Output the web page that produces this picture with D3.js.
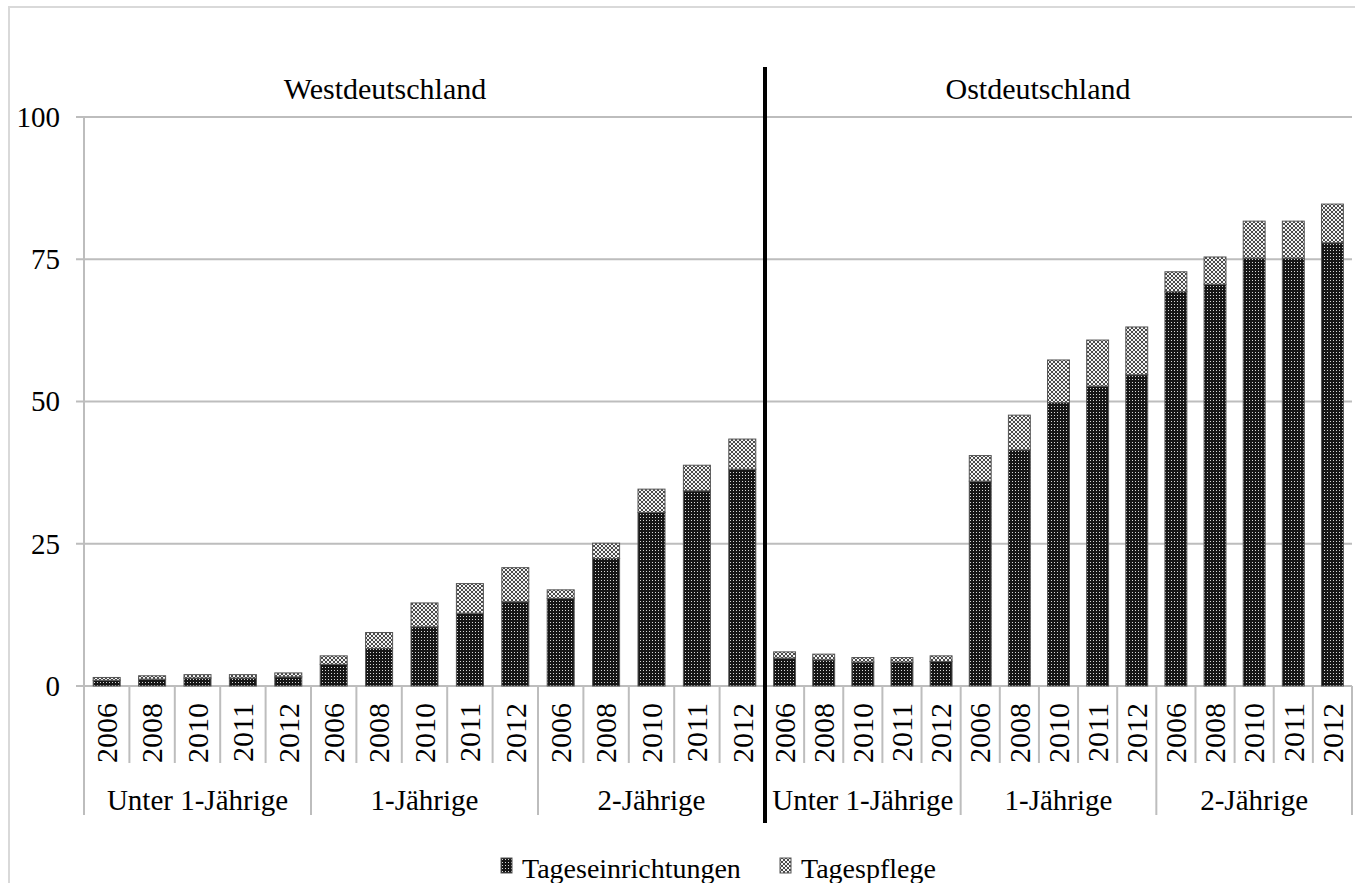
<!DOCTYPE html>
<html>
<head>
<meta charset="utf-8">
<script src="https://cdn.jsdelivr.net/npm/d3@7"></script>
<style>
  body { margin: 0; background: #fff; }
  svg text { font-family: "Liberation Serif", "Times New Roman", serif; fill: #000; }
</style>
</head>
<body>
<div id="chart"></div>
<script>
// categories
const years = ["2006", "2008", "2010", "2011", "2012"];
const groups = ["Unter 1-Jährige", "1-Jährige", "2-Jährige"];
const regions = ["Westdeutschland", "Ostdeutschland"];
const seriesNames = ["Tageseinrichtungen", "Tagespflege"];
const yTicks = [0, 25, 50, 75, 100];

// values (share in %)
const westEinrichtungen = [1.0, 1.2, 1.4, 1.4, 1.6, 3.8, 6.6, 10.4, 12.8, 14.8, 15.4, 22.4, 30.5, 34.3, 38.1];
const westPflege        = [0.5, 0.6, 0.6, 0.6, 0.7, 1.5, 2.8, 4.2, 5.2, 6.0, 1.5, 2.7, 4.1, 4.5, 5.3];
const eastEinrichtungen = [4.9, 4.6, 4.2, 4.2, 4.3, 36.0, 41.5, 49.8, 52.7, 54.7, 69.3, 70.6, 75.2, 75.2, 77.9];
const eastPflege        = [1.1, 1.0, 0.8, 0.8, 1.0, 4.5, 6.1, 7.5, 8.1, 8.4, 3.5, 4.8, 6.5, 6.5, 6.8];

const width = 1355, height = 883;
const plotTop = 117, plotBase = 686;

const svg = d3.select("#chart").append("svg")
    .attr("width", width)
    .attr("height", height);

// fill patterns
const defs = svg.append("defs");
let pe = defs.append("pattern").attr("id", "pat-einr")
    .attr("patternUnits", "userSpaceOnUse").attr("width", 3).attr("height", 3);
pe.append("rect").attr("width", 3).attr("height", 3).attr("fill", "#161616");
pe.append("rect").attr("x", 1).attr("y", 1).attr("width", 1).attr("height", 1).attr("fill", "#d8d8d8");

let pp = defs.append("pattern").attr("id", "pat-pflege")
    .attr("patternUnits", "userSpaceOnUse").attr("width", 4).attr("height", 4);
pp.append("rect").attr("width", 4).attr("height", 4).attr("fill", "#f4f4f4");
pp.append("path").attr("d", "M0,0L4,4M4,0L0,4")
    .attr("stroke", "#4a4a4a").attr("stroke-width", 1);

const fills = ["url(#pat-einr)", "url(#pat-pflege)"];

// outer frame
svg.append("rect")
    .attr("x", 9).attr("y", 7)
    .attr("width", width + 20).attr("height", height + 20)
    .attr("fill", "none").attr("stroke", "#d9d9d9").attr("stroke-width", 2);

const y = d3.scaleLinear().domain([0, 100]).range([plotBase, plotTop]);

// clip for the year labels (they are cut off in the original)
defs.append("clipPath").attr("id", "clip-years")
    .append("rect").attr("x", 0).attr("y", 690).attr("width", width).attr("height", 73);

const keys = [];
groups.forEach(g => years.forEach(yr => keys.push(g + "|" + yr)));

const panels = [
    {name: regions[0], x0: 84, x1: 765, pad: 0.405, title: 385, einr: westEinrichtungen, pflege: westPflege, axis: true},
    {name: regions[1], x0: 765, x1: 1352, pad: 0.44, title: 1038, einr: eastEinrichtungen, pflege: eastPflege, axis: false}
];

panels.forEach(function (p) {
    const x = d3.scaleBand().domain(keys).range([p.x0, p.x1])
        .paddingInner(p.pad).paddingOuter(p.pad / 2);
    const step = x.step();
    const g = svg.append("g");

    // gridlines
    g.append("g").selectAll("line")
        .data(yTicks)
        .enter().append("line")
        .attr("x1", p.axis ? p.x0 - 8 : p.x0)
        .attr("x2", p.x1)
        .attr("y1", d => y(d)).attr("y2", d => y(d))
        .attr("stroke", "#bdbdbd").attr("stroke-width", 2);

    if (p.axis) {
        const ax = g.append("g").attr("transform", "translate(" + p.x0 + ",0)")
            .call(d3.axisLeft(y).tickValues(yTicks).tickSize(0).tickPadding(24));
        ax.select(".domain").remove();
        ax.selectAll("text").style("font-size", "29px")
            .style("font-family", "'Liberation Serif', serif").attr("fill", "#000");
        g.append("line")
            .attr("x1", p.x0).attr("x2", p.x0)
            .attr("y1", plotTop).attr("y2", 815)
            .attr("stroke", "#bdbdbd").attr("stroke-width", 2);
    }

    // category separators
    const bounds = d3.range(16).map(i => p.x0 + i * step);
    g.append("g").selectAll("line")
        .data(bounds)
        .enter().append("line")
        .attr("x1", d => d).attr("x2", d => d)
        .attr("y1", plotBase)
        .attr("y2", (d, i) => i % 5 === 0 ? 815 : 763)
        .attr("stroke", "#bdbdbd").attr("stroke-width", 2);

    // stacked bars
    const rows = keys.map((k, i) => ({key: k, v0: p.einr[i], v1: p.pflege[i]}));
    const stack = d3.stack().keys(["v0", "v1"])(rows);
    g.append("g").selectAll("g")
        .data(stack)
        .enter().append("g")
        .attr("fill", (d, i) => fills[i])
        .selectAll("rect")
        .data(d => d)
        .enter().append("rect")
        .attr("x", d => x(d.data.key))
        .attr("width", x.bandwidth())
        .attr("y", d => y(d[1]))
        .attr("height", d => y(d[0]) - y(d[1]))
        .attr("stroke", "#555").attr("stroke-width", 1);

    // year labels
    g.append("g").attr("clip-path", "url(#clip-years)")
        .selectAll("text")
        .data(keys)
        .enter().append("text")
        .attr("transform", d => "translate(" + (x(d) + x.bandwidth() / 2) + ",703) rotate(-90)")
        .attr("text-anchor", "end")
        .attr("dy", "0.34em")
        .style("font-size", "30px")
        .text(d => d.split("|")[1]);

    // group labels
    g.append("g").selectAll("text")
        .data(groups)
        .enter().append("text")
        .attr("x", (d, i) => p.x0 + (i * 5 + 2.5) * step)
        .attr("y", 810)
        .attr("text-anchor", "middle")
        .style("font-size", "29px")
        .text(d => d);

    // panel title
    g.append("text")
        .attr("x", p.title).attr("y", 99)
        .attr("text-anchor", "middle")
        .style("font-size", "30px")
        .text(p.name);
});

// divider between the two panels
svg.append("line")
    .attr("x1", 765).attr("x2", 765)
    .attr("y1", 67).attr("y2", 823)
    .attr("stroke", "#000").attr("stroke-width", 4);

// legend
const legend = svg.append("g");
const legendX = [501, 780];
seriesNames.forEach(function (s, i) {
    legend.append("rect")
        .attr("x", legendX[i]).attr("y", 858)
        .attr("width", 11).attr("height", 15)
        .attr("fill", fills[i]).attr("stroke", "#555").attr("stroke-width", 1);
    legend.append("text")
        .attr("x", legendX[i] + 21).attr("y", 878)
        .style("font-size", "28px")
        .text(s);
});
</script>
</body>
</html>
